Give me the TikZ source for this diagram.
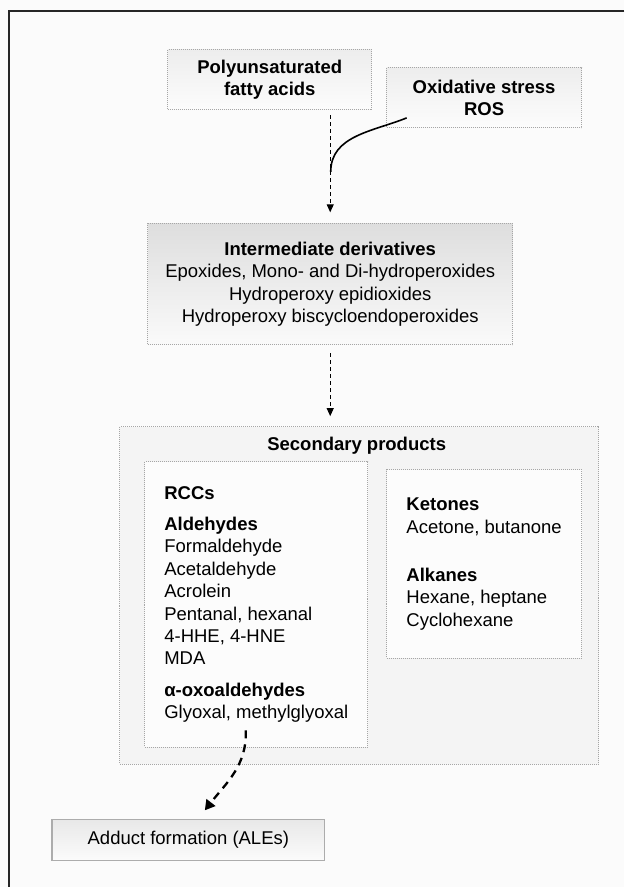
\documentclass[tikz,border=0pt]{standalone}
\usepackage{fontspec}
\setmainfont{Liberation Sans}
\usetikzlibrary{arrows.meta}

\begin{document}
\begin{tikzpicture}[
  x = 1pt, y = -1pt,
  every node/.style = {font = \fontsize{18.5}{22.5}\selectfont, inner sep = 0pt},
  dotbox/.style = {draw = gray!70, line width = 1pt, dash pattern = on 1pt off 1pt},
  srcbox/.style = {dotbox, top color = gray!14, bottom color = gray!2, align = center,
                   font = \fontsize{18.5}{22.5}\selectfont\bfseries},
  innerbox/.style = {dotbox, fill = gray!2, align = left},
  flow/.style = {-{Triangle[width = 7pt, length = 8pt]}, dash pattern = on 4pt off 3pt, line width = 1pt},
  bigflow/.style = {-{Triangle[width = 11pt, length = 10pt]}, dash pattern = on 8pt off 6pt, line width = 2.3pt},
  ]
  \fill[gray!3] (0,0) rectangle (625,888);
  \draw[line width = 1.5pt, black!85] (625,11) -- (9,11) -- (9,888);
  \useasboundingbox (0,0) rectangle (625,888);

  \node[srcbox, minimum width = 204pt, minimum height = 60pt] (pufa) at (270,80)
    {Polyunsaturated\\fatty acids};
  \node[srcbox, minimum width = 195pt, minimum height = 60pt] (ros) at (484.5,98)
    {Oxidative stress\\ROS};
  \node[dotbox, top color = gray!26, bottom color = gray!4, align = center,
        minimum width = 365pt, minimum height = 121pt] (inter) at (330.5,284.5)
    {\textbf{Intermediate derivatives}\\Epoxides, Mono- and Di-hydroperoxides\\
     Hydroperoxy epidioxides\\Hydroperoxy biscycloendoperoxides};

  \node[dotbox, fill = gray!9, minimum width = 479pt, minimum height = 338pt] (sec) at (359.5,596) {};
  \node[font = \fontsize{18.5}{22.5}\selectfont\bfseries] (sechead) at (357,446) {Secondary products};
  \node[innerbox, minimum width = 223pt, minimum height = 286pt] (rcc) at (256.5,605)
    {\textbf{RCCs}\\[8.5pt]\textbf{Aldehydes}\\Formaldehyde\\Acetaldehyde\\Acrolein\\
     Pentanal, hexanal\\4-HHE, 4-HNE\\MDA\\[9pt]\textbf{α-oxoaldehydes}\\
     Glyoxal, methylglyoxal};
  \node[innerbox, minimum width = 195pt, minimum height = 189pt] (ket) at (484.5,564.5)
    {\textbf{Ketones}\\Acetone, butanone\\[26pt]\textbf{Alkanes}\\Hexane, heptane\\Cyclohexane};

  \node[draw = gray!65, line width = 1.3pt, top color = gray!18, bottom color = gray!3,
        minimum width = 273pt, minimum height = 41pt] (ale) at (188.5,840.5) {Adduct formation (ALEs)};

  \coordinate (rosfoot) at (407,118);
  \coordinate (merge) at (331,172);
  \coordinate (rccfoot) at (246,731);
  \coordinate (alehead) at (205,811);

  \draw[flow, shorten <= 5pt, shorten >= 11pt] (pufa.south -| inter.north) -- (inter.north);
  \draw[line width = 1.6pt] (rosfoot) to[out = 202, in = 90] (merge);
  \draw[flow, shorten <= 8pt, shorten >= 10pt] (inter.south) -- (inter.south |- sec.north);
  \draw[bigflow] (rccfoot) to[out = -88, in = 52] (alehead);
\end{tikzpicture}
\end{document}
